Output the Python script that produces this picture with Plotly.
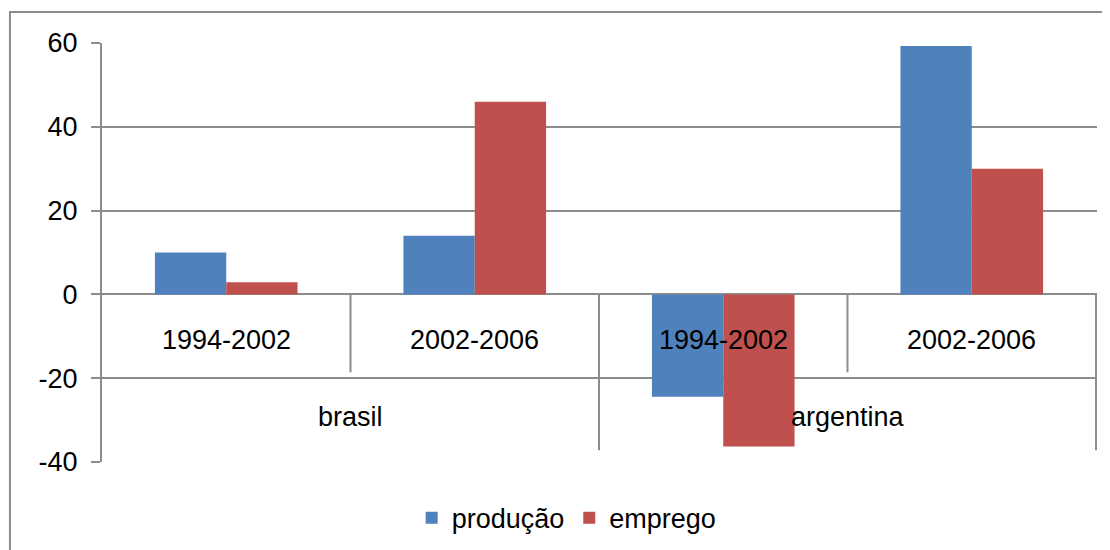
import plotly.graph_objects as go

countries = ["brasil", "brasil", "argentina", "argentina"]
periods = ["1994-2002", "2002-2006", "1994-2002", "2002-2006"]
producao = [10, 14, -24.4, 59.3]
emprego = [2.9, 46, -36.3, 30]
y_ticks = [-40, -20, 0, 20, 40, 60]
y_ticktext = ["-40", "-20", "0", "20", "40", "60"]

FONT = "Liberation Sans, Arial, sans-serif"
GRID = "#8c8c8c"
FS = 27

cats = [f"{c} {p}" for c, p in zip(countries, periods)]

fig = go.Figure()
fig.add_trace(go.Bar(x=cats, y=producao, name="produção",
                     marker=dict(color="#4F81BD", line=dict(width=0))))
fig.add_trace(go.Bar(x=cats, y=emprego, name="emprego",
                     marker=dict(color="#C0504D", line=dict(width=0))))

annotations = []
# inner (period) labels
for i, p in enumerate(periods):
    annotations.append(dict(x=i, y=0, xref="x", yref="y", text=p, showarrow=False,
                            yshift=-46, font=dict(size=FS, color="black")))
# outer (country) labels
groups = []
for i, c in enumerate(countries):
    if not groups or groups[-1][0] != c:
        groups.append([c, i, i])
    else:
        groups[-1][2] = i
for c, a, b in groups:
    annotations.append(dict(x=(a + b) / 2, y=0, xref="x", yref="y", text=c,
                            showarrow=False, yshift=-123,
                            font=dict(size=FS, color="black")))

shapes = []
# inner dividers
for i in range(1, len(periods)):
    shapes.append(dict(type="line", xref="x", yref="y", x0=i - 0.5, x1=i - 0.5,
                       y0=0, y1=-18.6, line=dict(color=GRID, width=2), layer="above"))
# outer dividers (left edge is covered by the y axis line)
bounds = [g[2] + 0.5 for g in groups]
for bx in bounds:
    shapes.append(dict(type="line", xref="x", yref="y", x0=bx, x1=bx,
                       y0=0, y1=-37.2, line=dict(color=GRID, width=2), layer="above"))
# chart frame
shapes.append(dict(type="rect", xref="paper", yref="paper", x0=-0.0925, x1=1.2,
                   y0=-0.5, y1=1.074, line=dict(color=GRID, width=2), layer="below"))

fig.update_layout(
    width=1102, height=542,
    margin=dict(l=94, r=13, t=35, b=88, autoexpand=False),
    paper_bgcolor="white", plot_bgcolor="white",
    barmode="group", bargap=0.426, bargroupgap=0,
    font=dict(family=FONT, size=FS, color="black"),
    showlegend=True,
    legend=dict(orientation="h", x=0.467, xanchor="center", y=-0.134, yanchor="middle",
                font=dict(size=FS), itemwidth=30, traceorder="normal"),
    xaxis=dict(type="category", showticklabels=False, ticks="", showgrid=False,
               showline=False, zeroline=False, automargin=False, fixedrange=True),
    yaxis=dict(range=[-40, 60], tickvals=y_ticks, ticktext=y_ticktext,
               showgrid=True, gridcolor=GRID, gridwidth=2,
               zeroline=True, zerolinecolor=GRID, zerolinewidth=2,
               showline=True, linecolor=GRID, linewidth=2, ticks="outside",
               ticklen=9, tickcolor=GRID, tickwidth=2, ticklabelstandoff=8,
               automargin=False, tickfont=dict(size=FS)),
    annotations=annotations,
    shapes=shapes,
)

fig.write_html("out.html")
